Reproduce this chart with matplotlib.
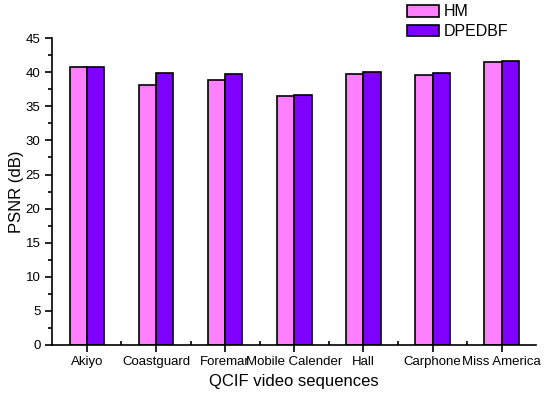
import numpy as np
import matplotlib
matplotlib.use("Agg")
import matplotlib.pyplot as plt
from matplotlib.ticker import MultipleLocator, FixedLocator

plt.rcParams['font.family'] = ['Liberation Sans', 'DejaVu Sans']

sequences = ["Akiyo", "Coastguard", "Foremar", "Mobile Calender", "Hall", "Carphone", "Miss America"]
hm = [40.8, 38.1, 38.9, 36.5, 39.8, 39.6, 41.5]
dpedbf = [40.8, 39.85, 39.7, 36.7, 40.1, 39.85, 41.7]

x = np.arange(len(sequences))
w = 0.25

fig = plt.figure(figsize=(5.5, 3.97), dpi=100)
ax = fig.add_axes([0.095, 0.131, 0.88, 0.773])

ax.bar(x - w / 2, hm, w, color='#FF80FF', edgecolor='black', linewidth=1.2, label='HM')
ax.bar(x + w / 2, dpedbf, w, color='#8000FF', edgecolor='black', linewidth=1.2, label='DPEDBF')

ax.set_xlim(-0.5, 6.5)
ax.set_ylim(0, 45)
ax.spines['top'].set_visible(False)
ax.spines['right'].set_visible(False)
ax.spines['left'].set_linewidth(1.2)
ax.spines['bottom'].set_linewidth(1.2)

ax.set_xticks(x)
ax.set_xticklabels(sequences, fontsize=9.5)
ax.xaxis.set_minor_locator(FixedLocator(x[:-1] + 0.5))
ax.tick_params(axis='x', which='major', direction='out', length=5, width=1.2, pad=3)
ax.tick_params(axis='x', which='minor', direction='in', length=3, width=1.2)

ax.yaxis.set_major_locator(MultipleLocator(5))
ax.yaxis.set_minor_locator(MultipleLocator(2.5))
ax.tick_params(axis='y', which='major', direction='out', length=5, width=1.2, labelsize=9.5)
ax.tick_params(axis='y', which='minor', direction='out', length=3, width=1.2)

ax.set_xlabel("QCIF video sequences", fontsize=12, labelpad=4)
ax.set_ylabel("PSNR (dB)", fontsize=12, labelpad=1)

ax.legend(loc='upper left', bbox_to_anchor=(0.733, 1.11), frameon=False, fontsize=11.5,
          handlelength=2.0, handleheight=0.75, labelspacing=0.3, handletextpad=0.3,
          borderaxespad=0, borderpad=0)

fig.savefig("out.png", dpi=100)
